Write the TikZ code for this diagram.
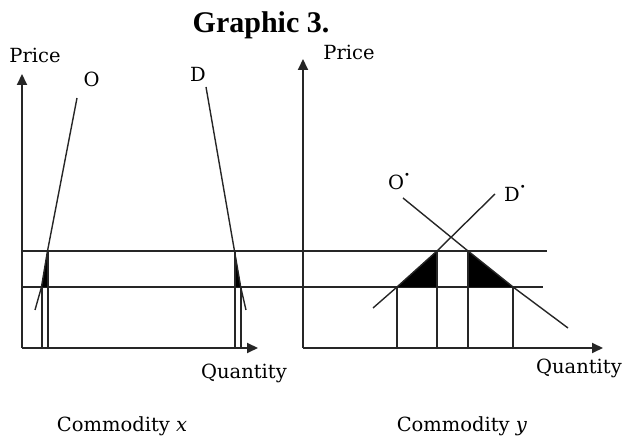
\documentclass[tikz,border=0pt]{standalone}
\usepackage{fontspec}
\setmainfont{DejaVu Serif}
\newfontfamily\titlefont{Liberation Serif}
\usetikzlibrary{arrows.meta,positioning,calc}

\tikzset{
	axis/.style={line width=2pt,draw=black!85,-{Triangle[length=11pt,width=10pt]}},
	level/.style={line width=2pt,draw=black!85},
	curve/.style={line width=1.4pt,draw=black!85},
	lbl/.style={font=\fontsize{19.5}{22}\selectfont,anchor=base,inner sep=0pt},
}

\begin{document}
\begin{tikzpicture}[x=1pt,y=-1pt]
	\useasboundingbox (0,0) rectangle (625,438);
	
	% left panel
	\coordinate (L0) at (22,348);
	\coordinate (LY) at (22,74);
	\coordinate (LX) at (258,348);
	
	\coordinate (O1) at (77,98);
	\coordinate (O2) at (47.5,251);
	\coordinate (O3) at (41.5,287);
	\coordinate (O4) at (35,310);
	
	\coordinate (D1) at (206,87);
	\coordinate (D2) at (234.5,251);
	\coordinate (D3) at (240.7,287);
	\coordinate (D4) at (246,310);
	
	% right panel
	\coordinate (R0) at (303,348);
	\coordinate (RY) at (303,59);
	\coordinate (RX) at (603,348);
	
	\coordinate (P1) at (403,198);
	\coordinate (P2) at (468,251);
	\coordinate (P3) at (513,287);
	\coordinate (P4) at (568,328);
	
	\coordinate (Q1) at (495,194);
	\coordinate (Q2) at (437,251);
	\coordinate (Q3) at (397,287);
	\coordinate (Q4) at (373,308);
	
	% price levels
	\coordinate (U1) at (22,251);
	\coordinate (U2) at (547,251);
	\coordinate (W1) at (22,287);
	\coordinate (W2) at (543,287);
	
	\draw[level] (U1) -- (U2);
	\draw[level] (W1) -- (W2);
	
	\filldraw[black] (O2) -- (O3) -- (O3 -| O2) -- cycle;
	\filldraw[black] (D2) -- (D3) -- (D3 -| D2) -- cycle;
	\filldraw[black] (Q2) -- (Q3) -- (Q3 -| Q2) -- cycle;
	\filldraw[black] (P2) -- (P3) -- (P3 -| P2) -- cycle;
	
	\draw[curve] (O1) -- (O2) -- (O3) -- (O4);
	\draw[curve] (D1) -- (D2) -- (D3) -- (D4);
	\draw[curve] (P1) -- (P2) -- (P3) -- (P4);
	\draw[curve] (Q1) -- (Q2) -- (Q3) -- (Q4);
	
	\draw[level] (O2) -- (O2 |- L0);
	\draw[level] (O3) -- (O3 |- L0);
	\draw[level] (D2) -- (D2 |- L0);
	\draw[level] (D3) -- (D3 |- L0);
	\draw[level] (Q3) -- (Q3 |- R0);
	\draw[level] (Q2) -- (Q2 |- R0);
	\draw[level] (P2) -- (P2 |- R0);
	\draw[level] (P3) -- (P3 |- R0);
	
	\draw[axis] (L0) -- (LY);
	\draw[axis] (L0) -- (LX);
	\draw[axis] (R0) -- (RY);
	\draw[axis] (R0) -- (RX);
	
	\node[font=\titlefont\bfseries\fontsize{30}{33}\selectfont,anchor=base,inner sep=0pt] (title) at (261,33) {Graphic 3.};
	
	\node[lbl] (pl) at (35,63) {Price};
	\node[lbl] (pr) at (349,60) {Price};
	\node[lbl] (o) at (91.5,87) {O};
	\node[lbl] (d) at (198,82) {D};
	\node[lbl] (o2) at (399,190) {O\raisebox{0.6em}{\fontsize{10}{10}\selectfont\textbullet}};
	\node[lbl] (d2) at (515,202) {D\raisebox{0.6em}{\fontsize{10}{10}\selectfont\textbullet}};
	\node[lbl] (ql) at (244,379) {Quantity};
	\node[lbl] (qr) at (579,374) {Quantity};
	\node[lbl] (cx) at (122,432) {Commodity \textit{x}};
	\node[lbl] (cy) at (462,432) {Commodity \textit{y}};
\end{tikzpicture}
\end{document}
